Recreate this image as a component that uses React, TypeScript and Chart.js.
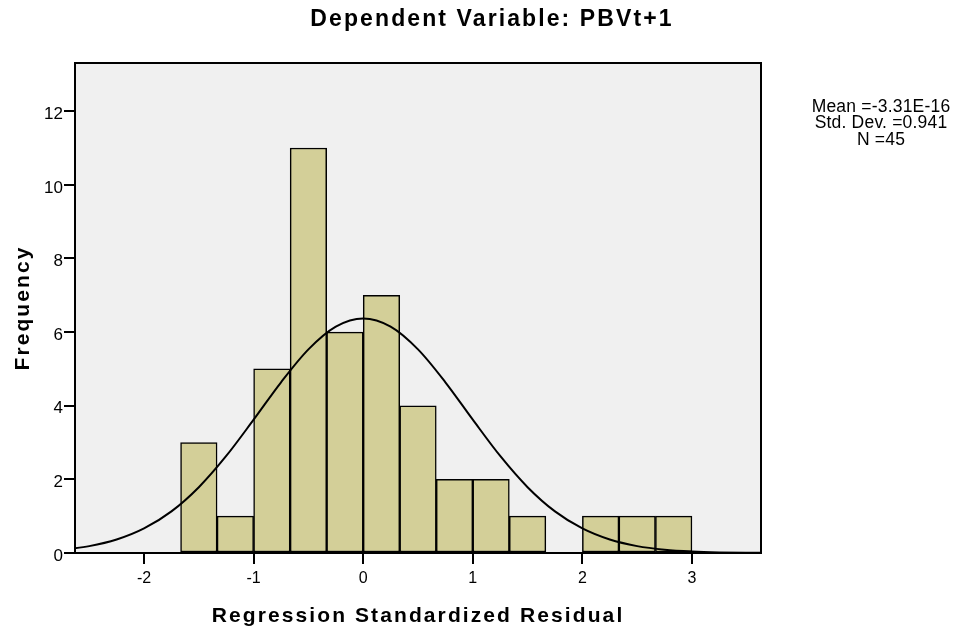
import React, { useEffect, useRef } from "react";
import { Chart, registerables } from "chart.js";

Chart.register(...registerables);

// Histogram bins (centres of bins of width 1/3) and counts
const binCenters = [-1.5, -1.1667, -0.8333, -0.5, -0.1667, 0.1667, 0.5, 0.8333, 1.1667, 1.5, 1.8333, 2.1667, 2.5, 2.8333];
const binCounts = [3, 1, 5, 11, 6, 7, 4, 2, 2, 1, 0, 1, 1, 1];

// Normal curve
const curveX = [-2.75, -2.5, -2.25, -2, -1.75, -1.5, -1.25, -1, -0.75, -0.5, -0.25, 0, 0.25, 0.5, 0.75, 1, 1.25, 1.5, 1.75, 2, 2.25, 2.5, 2.75, 3, 3.25, 3.5, 3.75];
const curveY = [0.089, 0.187, 0.365, 0.666, 1.13, 1.788, 2.636, 3.622, 4.637, 5.531, 6.149, 6.37, 6.149, 5.531, 4.637, 3.622, 2.636, 1.788, 1.13, 0.666, 0.365, 0.187, 0.089, 0.04, 0.016, 0.006, 0.002];

const xTicks = [-2, -1, 0, 1, 2, 3];
const yTicks = [0, 2, 4, 6, 8, 10, 12];

const titleText = "Dependent Variable: PBVt+1";
const xTitle = "Regression Standardized Residual";
const yTitle = "Frequency";
const statsLines = ["Mean =-3.31E-16", "Std. Dev. =0.941", "N =45"];

const FONT = "Arial, 'Liberation Sans', sans-serif";

const decorPlugin = {
  id: "decor",
  beforeDraw(chart: any) {
    const { ctx, chartArea } = chart;
    ctx.save();
    ctx.fillStyle = "#ffffff";
    ctx.fillRect(0, 0, chart.width, chart.height);
    ctx.fillStyle = "#f0f0f0";
    ctx.fillRect(chartArea.left, chartArea.top, chartArea.right - chartArea.left, chartArea.bottom - chartArea.top);
    ctx.restore();
  },
  afterDatasetsDraw(chart: any) {
    const { ctx, chartArea } = chart;
    ctx.save();
    ctx.strokeStyle = "#000";
    ctx.lineWidth = 2;
    ctx.strokeRect(chartArea.left, chartArea.top, chartArea.right - chartArea.left, chartArea.bottom - chartArea.top);
    ctx.restore();
  },
  afterDraw(chart: any) {
    const { ctx, chartArea } = chart;
    ctx.save();
    ctx.fillStyle = "#000";
    (ctx as any).letterSpacing = "2.1px";
    ctx.font = `bold 23px ${FONT}`;
    ctx.textAlign = "center";
    ctx.textBaseline = "alphabetic";
    ctx.fillText(titleText, 492, 26);

    (ctx as any).letterSpacing = "2.1px";
    ctx.font = `bold 21px ${FONT}`;
    ctx.fillText(xTitle, (chartArea.left + chartArea.right) / 2, 622);

    ctx.save();
    ctx.translate(29, (chartArea.top + chartArea.bottom) / 2);
    ctx.rotate(-Math.PI / 2);
    ctx.fillText(yTitle, 0, 0);
    ctx.restore();

    (ctx as any).letterSpacing = "0.2px";
    ctx.font = `17.5px ${FONT}`;
    ctx.textBaseline = "middle";
    statsLines.forEach((s, i) => {
      ctx.fillText(s, 881, 107 + i * 16.5);
    });
    (ctx as any).letterSpacing = "0px";
    ctx.restore();
  },
};

export default function App() {
  const ref = useRef<HTMLCanvasElement | null>(null);
  useEffect(() => {
    if (!ref.current) return;
    const chart = new Chart(ref.current, {
      type: "bar",
      data: {
        datasets: [
          {
            type: "line",
            data: curveX.map((x, i) => ({ x, y: curveY[i] })),
            borderColor: "#000",
            borderWidth: 2,
            pointRadius: 0,
            cubicInterpolationMode: "monotone",
            fill: false,
            clip: 0,
            order: 0,
          } as any,
          {
            type: "bar",
            data: binCenters.map((x, i) => ({ x, y: binCounts[i] })),
            backgroundColor: "#d3cf98",
            borderColor: "#000",
            borderWidth: 1.5,
            borderSkipped: false,
            barPercentage: 1,
            categoryPercentage: 1,
            order: 1,
          } as any,
        ],
      },
      options: {
        responsive: false,
        animation: false,
        events: [],
        layout: { padding: { top: 63, right: 197, left: 0, bottom: 0 } },
        plugins: { legend: { display: false }, tooltip: { enabled: false }, title: { display: false } },
        scales: {
          x: {
            type: "linear",
            offset: false,
            min: -2.63,
            max: 3.63,
            afterBuildTicks: (s: any) => {
              s.ticks = xTicks.map((v) => ({ value: v }));
            },
            afterFit: (s: any) => {
              s.height = 84;
            },
            grid: { offset: false, drawOnChartArea: false, drawTicks: true, tickLength: 11, color: "#000", lineWidth: 2 },
            border: { display: false },
            ticks: {
              color: "#000",
              font: { family: FONT, size: 16 },
              padding: 5,
              maxRotation: 0,
              autoSkip: false,
              callback: (v: any) => String(v),
            },
          },
          y: {
            type: "linear",
            min: 0,
            max: 13.31,
            afterBuildTicks: (s: any) => {
              s.ticks = yTicks.map((v) => ({ value: v }));
            },
            afterFit: (s: any) => {
              s.width = 75;
            },
            grid: { drawOnChartArea: false, drawTicks: true, tickLength: 11, color: "#000", lineWidth: 2 },
            border: { display: false },
            ticks: {
              color: "#000",
              font: { family: FONT, size: 17 },
              padding: 1,
              labelOffset: 3,
              autoSkip: false,
              callback: (v: any) => String(v),
            },
          },
        },
      },
      plugins: [decorPlugin],
    });
    return () => chart.destroy();
  }, []);
  return (
    <div style={{ position: "absolute", left: 0, top: 0, width: 958, height: 637 }}>
      <canvas ref={ref} width={958} height={637} style={{ display: "block" }} />
    </div>
  );
}
